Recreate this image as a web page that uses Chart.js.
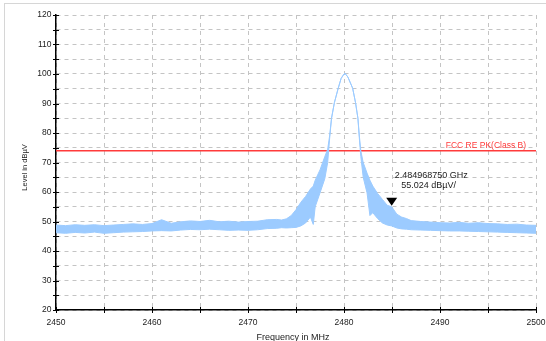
<!DOCTYPE html>
<html><head><meta charset="utf-8">
<script src="https://cdn.jsdelivr.net/npm/chart.js@4/dist/chart.umd.min.js"></script>
<style>html,body{margin:0;padding:0;background:#fff;}canvas{display:block;}</style>
</head><body>
<canvas id="c" width="546" height="341"></canvas>
<script>
// Frequency points (MHz) and read-off envelope of the measured trace (dBµV)
const freq = [2450,2451,2452,2453,2454,2455,2456,2457,2458,2459,2460,2461,2462,2463,2464,2465,2466,2467,2468,2469,2470,2471,2472,2473,2473.5,2474,2474.5,2475,2475.5,2476,2476.5,2476.8,2477,2477.5,2478,2478.3,2478.5,2478.7,2479.0,2479.4,2479.7,2480.0,2480.1,2480.4,2480.9,2481.2,2481.45,2481.6,2481.75,2482,2482.4,2482.7,2483,2483.5,2484,2484.5,2484.97,2485.5,2486,2486.5,2487,2488,2489,2490,2491,2492,2493,2494,2495,2496,2497,2498,2499,2500];
const upper = [48.8,48.6,48.9,48.7,48.9,48.6,48.8,49.0,49.2,49.0,49.3,50.6,49.4,49.9,50.2,50.0,50.4,49.9,50.1,49.8,50.0,50.1,50.6,50.7,50.5,50.9,52.0,54.0,56.5,58.5,61.0,62.0,64.0,67.5,72.0,74.5,79.0,85.0,90.3,95.2,98.5,100.0,100.2,99.0,95.2,90.3,85.0,79.0,74.0,70.0,66.4,64.0,62.0,59.5,57.5,55.5,55.0,52.5,51.5,51.0,50.3,50.0,49.8,49.6,49.5,49.7,49.4,49.6,49.3,49.2,49.0,49.1,48.8,48.7];
const lower = [46.2,46.0,46.3,46.1,46.4,46.0,46.2,46.4,46.5,46.6,46.8,46.9,46.8,47.1,47.3,47.2,47.4,47.2,47.0,47.1,47.0,47.2,47.6,47.7,47.9,47.8,47.9,48.0,48.5,49.5,51.5,49.0,55.0,59.7,64.5,70.0,78.0,85.0,90.3,95.2,98.5,100.0,100.2,99.0,95.2,90.3,85.0,78.0,72.0,65.0,59.7,52.0,53.0,51.0,49.5,48.8,48.5,47.8,47.5,47.4,47.2,47.1,47.0,46.9,46.8,46.8,46.7,46.6,46.5,46.4,46.3,46.2,46.1,46.0];
const limitFreq = [2450, 2500];
const limitLevel = [74, 74];
const limitLabel = "FCC RE PK(Class B)";
const markerFreq = 2484.96875;
const markerLevel = 55.024;
const markerText = ["2.484968750 GHz", "55.024 dBµV/"];
const xTitle = "Frequency in MHz";
const yTitle = "Level in dBµV";
const xTicks = {min: 2450, max: 2500, step: 5, labelEvery: 10};
const yTicks = {min: 20, max: 120, step: 5, labelEvery: 10};

const FONT = '"Liberation Sans", Arial, sans-serif';
const BLUE = '#9ccbff';

const extras = {
  id: 'extras',
  beforeDraw(chart) {
    const ctx = chart.ctx;
    ctx.save();
    ctx.strokeStyle = '#d6d6d6';
    ctx.lineWidth = 1;
    ctx.strokeRect(4.5, 3.5, 800, 800);
    ctx.restore();
  },
  afterDraw(chart) {
    const ctx = chart.ctx, xs = chart.scales.x, ys = chart.scales.y, a = chart.chartArea;
    ctx.save();
    // tick marks crossing axes
    ctx.strokeStyle = '#000'; ctx.lineWidth = 1;
    ctx.beginPath();
    xs.ticks.forEach(t => { const p = Math.round(xs.getPixelForValue(t.value)) + 0.5; ctx.moveTo(p, a.bottom - 3); ctx.lineTo(p, a.bottom + 3); });
    ys.ticks.forEach(t => { const p = Math.round(ys.getPixelForValue(t.value)) + 0.5; ctx.moveTo(a.left - 3, p); ctx.lineTo(a.left + 3, p); });
    ctx.stroke();
    // limit label
    ctx.fillStyle = '#ff3b3b';
    ctx.font = '8.5px ' + FONT;
    ctx.textAlign = 'right'; ctx.textBaseline = 'alphabetic';
    ctx.fillText(limitLabel, xs.getPixelForValue(2500) - 10, ys.getPixelForValue(74) - 3);
    // marker
    const mx = xs.getPixelForValue(markerFreq), my = ys.getPixelForValue(markerLevel);
    ctx.fillStyle = '#000';
    ctx.beginPath();
    ctx.moveTo(mx - 5.5, my - 9); ctx.lineTo(mx + 5.5, my - 9); ctx.lineTo(mx, my - 1); ctx.closePath();
    ctx.fill();
    ctx.fillStyle = '#222';
    ctx.font = '9px ' + FONT;
    ctx.textAlign = 'left'; ctx.textBaseline = 'middle';
    ctx.fillText(markerText[0], mx + 3, my - 31);
    ctx.fillText(markerText[1], mx + 9.5, my - 21.5);
    // axis titles
    ctx.fillStyle = '#222';
    ctx.font = '9px ' + FONT;
    ctx.textAlign = 'center';
    ctx.fillText(xTitle, (a.left + a.right) / 2 - 3, 337.5);
    ctx.translate(25, (a.top + a.bottom) / 2 + 5);
    ctx.rotate(-Math.PI / 2);
    ctx.font = '7.5px ' + FONT;
    ctx.fillText(yTitle, 0, 0);
    ctx.restore();
  }
};

const pts = arr => freq.map((f, i) => ({x: f, y: arr[i]}));

new Chart(document.getElementById('c'), {
  type: 'line',
  data: {
    datasets: [
      {data: pts(upper), borderColor: BLUE, backgroundColor: BLUE, borderWidth: 1, pointRadius: 0, fill: '+1', tension: 0},
      {data: pts(lower), borderColor: BLUE, backgroundColor: BLUE, borderWidth: 1, pointRadius: 0, fill: false, tension: 0},
      {data: limitFreq.map((f, i) => ({x: f, y: limitLevel[i]})), borderColor: '#ff3b3b', borderWidth: 1.5, pointRadius: 0, fill: false}
    ]
  },
  options: {
    responsive: false,
    animation: false,
    events: [],
    layout: {padding: {left: 0, right: 10, top: 15, bottom: 0}},
    plugins: {legend: {display: false}, tooltip: {enabled: false}},
    scales: {
      x: {
        type: 'linear', min: xTicks.min, max: xTicks.max,
        ticks: {stepSize: xTicks.step, autoSkip: false, maxRotation: 0, color: '#222', padding: 8,
          font: {family: FONT, size: 8.5},
          callback: v => (v % xTicks.labelEvery === 0 ? String(v) : '')},
        grid: {color: '#c4c4c4', drawTicks: false, lineWidth: 1},
        border: {color: '#000', width: 1.5, dash: [4, 4]},
        afterFit: s => { s.height = 31; s.paddingLeft = 0; s.paddingRight = 0; }
      },
      y: {
        type: 'linear', min: yTicks.min, max: yTicks.max,
        ticks: {stepSize: yTicks.step, autoSkip: false, color: '#222', padding: 4.5,
          font: {family: FONT, size: 8.5},
          callback: v => (v % yTicks.labelEvery === 0 ? String(v) : '')},
        grid: {color: '#c4c4c4', drawTicks: false, lineWidth: 1},
        border: {color: '#000', width: 1.5, dash: [4, 4]},
        afterFit: s => { s.width = 56; s.paddingTop = 0; s.paddingBottom = 0; }
      }
    }
  },
  plugins: [extras]
});
</script>
</body></html>
